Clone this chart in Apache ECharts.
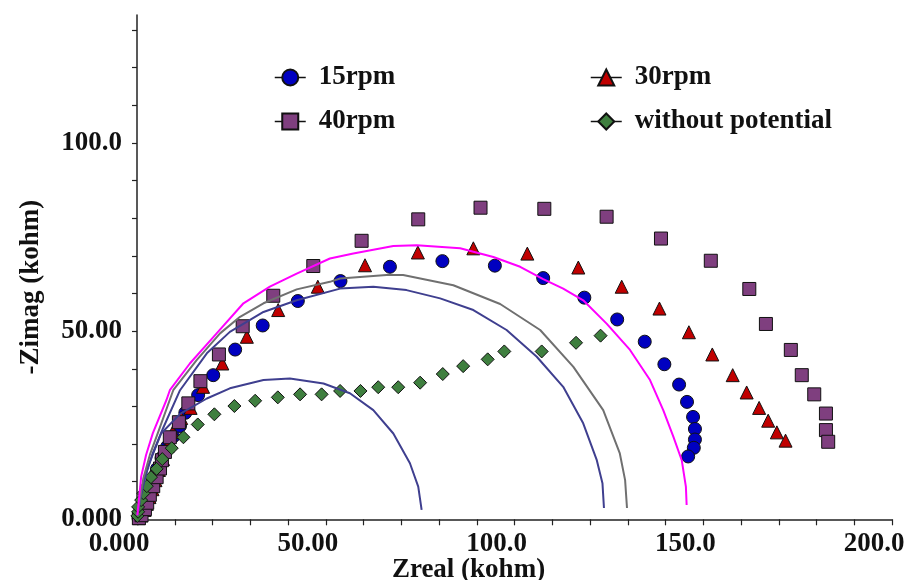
<!DOCTYPE html>
<html>
<head>
<meta charset="utf-8">
<script src="https://cdn.jsdelivr.net/npm/echarts@6/dist/echarts.min.js"></script>
<style>
html, body { margin: 0; padding: 0; background: #fff; }
#chart { width: 908px; height: 580px; }
</style>
</head>
<body>
<div id="chart"></div>
<script>
// Measured impedance spectra, [Zreal, -Zimag] in kohm
const rpm15 = [
  [0.4,0.3],[0.8,1.3],[1.3,2.6],[1.9,4.2],[2.5,6.1],[3.3,8.2],[4.2,10.7],[5.3,13.4],
  [6.5,16.3],[8.0,19.3],[9.6,22.0],[11.4,24.8],[12.8,28.3],[16.2,33.0],[20.2,38.3],
  [26.0,45.1],[33.3,51.5],[42.6,58.0],[53.9,63.3],[67.0,67.1],[80.9,68.6],[94.8,67.4],
  [107.6,64.1],[118.5,58.9],[127.2,53.1],[134.5,47.2],[139.7,41.2],[143.6,35.8],
  [145.7,31.2],[147.3,27.2],[147.8,24.0],[147.8,21.2],[147.5,19.0],[146.0,16.7]
];
const rpm30 = [
  [0.5,0.3],[1.2,1.0],[2.0,2.5],[2.6,4.1],[3.3,5.9],[4.1,8.0],[4.9,10.4],[5.8,13.1],
  [6.9,16.0],[8.1,19.5],[9.5,23.2],[11.7,26.9],[14.2,29.6],[17.5,35.2],[22.6,41.4],
  [29.1,48.5],[37.4,55.6],[47.9,61.8],[60.4,67.5],[74.4,70.9],[89.1,72.0],[103.4,70.6],
  [116.9,66.9],[128.4,61.8],[138.4,56.0],[146.2,49.7],[152.4,43.8],[157.8,38.3],
  [161.5,33.7],[164.8,29.6],[167.2,26.2],[169.5,23.1],[171.8,20.9]
];
const rpm40 = [
  [0.5,0.3],[1.2,1.1],[2.1,2.7],[2.7,4.4],[3.4,6.5],[4.3,8.8],[5.2,11.2],[6.1,13.5],
  [6.6,15.7],[7.4,17.9],[8.7,21.8],[11.1,25.8],[13.6,30.8],[16.8,36.7],[21.7,43.8],
  [28.0,51.3],[36.1,59.4],[46.7,67.3],[59.5,74.0],[74.5,79.7],[91.0,82.8],[107.9,82.5],
  [124.4,80.4],[138.8,74.6],[152.0,68.7],[162.2,61.2],[166.6,51.9],[173.2,45.0],
  [176.1,38.3],[179.4,33.2],[182.5,28.1],[182.5,23.7],[183.1,20.6]
];
const noPotential = [
  [0.1,0.9],[0.3,2.0],[0.3,3.3],[1.1,5.1],[1.7,6.9],[2.6,8.8],[3.7,11.2],[5.2,13.4],
  [6.7,16.0],[9.2,18.9],[12.3,21.8],[16.1,25.2],[20.5,27.9],[25.8,30.1],[31.3,31.5],
  [37.3,32.4],[43.2,33.2],[48.9,33.2],[53.8,34.1],[59.2,34.1],[63.9,35.1],[69.2,35.1],
  [75.0,36.3],[81.0,38.6],[86.4,40.7],[92.9,42.5],[97.3,44.6],[107.2,44.6],[116.3,46.9],
  [122.8,48.8]
];

// Equivalent-circuit fit curves
const fitA = [
  [0.1,0.9],[1.1,6.9],[2.9,14.0],[6.4,22.8],[11.4,28.0],[18.5,32.1],[24.6,34.8],
  [33.5,37.0],[40.5,37.4],[49.4,36.1],[56.4,33.5],[62.6,29.0],[67.9,22.8],[72.3,14.9],
  [74.5,8.7],[75.4,2.5]
];
const fitB = [
  [0.1,0.9],[0.8,5.1],[2.1,11.0],[4.2,17.6],[6.9,24.2],[11.4,34.3],[18.5,44.1],
  [24.6,49.8],[33.5,55.1],[42.3,58.2],[53.8,61.3],[62.6,61.8],[71.4,60.9],[80.3,58.7],
  [89.1,55.6],[97.9,50.3],[105.9,43.2],[112.9,35.2],[118.2,25.5],[121.8,15.7],
  [123.3,9.6],[123.7,3.0]
];
const fitC = [
  [0.1,0.9],[0.7,5.1],[1.7,11.0],[3.4,17.1],[5.8,23.7],[9.6,34.3],[15.8,42.3],
  [22.0,49.4],[27.3,53.8],[33.5,57.4],[42.3,61.1],[51.1,63.1],[53.8,64.0],[66.1,64.9],
  [70.5,64.9],[83.8,62.2],[96.2,57.2],[106.8,50.3],[115.6,40.5],[123.5,29.0],
  [127.9,17.5],[129.3,10.4],[129.8,3.0]
];
const fitD = [
  [0.1,1.1],[0.5,5.1],[1.1,11.3],[2.4,17.1],[4.2,22.9],[7.8,31.7],[8.7,34.3],
  [14.0,41.4],[21.1,49.4],[28.2,57.4],[35.2,61.8],[42.3,65.3],[51.1,69.3],[57.3,70.6],
  [67.9,72.6],[74.1,72.8],[85.6,72.0],[94.4,69.7],[101.5,67.1],[107.6,63.8],
  [112.9,61.3],[118.2,58.2],[124.4,52.0],[130.6,45.0],[135.9,37.0],[139.4,29.0],
  [142.1,21.9],[144.3,15.7],[145.4,8.7],[145.6,3.8]
];

// Axis ticks and their printed labels
const xMinorTicks = [0,10,20,30,40,50,60,70,80,90,100,110,120,130,140,150,160,170,180,190,200];
const xLabelValues = [0, 50, 100, 150, 200];
const xLabelTexts = ['0.000', '50.00', '100.0', '150.0', '200.0'];
const yMinorTicks = [0,10,20,30,40,50,60,70,80,90,100,110,120,130];
const yLabelValues = [0, 50, 100];
const yLabelTexts = ['0.000', '50.00', '100.0'];

const FONT = 'Liberation Serif';
const chart = echarts.init(document.getElementById('chart'), null, { renderer: 'canvas' });

// Marker-only series: the connecting line is hidden, but its style feeds the legend icon
function markerSeries(name, data, symbol, color, z) {
  return {
    name: name,
    type: 'line',
    data: data,
    symbol: symbol,
    symbolSize: 13,
    showAllSymbol: true,
    itemStyle: { color: color, borderColor: '#111', borderWidth: 1, opacity: 1 },
    lineStyle: { color: '#111', width: 0, opacity: 0 },
    emphasis: { disabled: true },
    animation: false,
    z: z
  };
}
function fitSeries(data, color) {
  return {
    type: 'line',
    data: data,
    showSymbol: false,
    symbol: 'none',
    lineStyle: { color: color, width: 2 },
    emphasis: { disabled: true },
    animation: false,
    z: 10
  };
}

const legendCommon = {
  orient: 'vertical',
  padding: 0,
  itemWidth: 31,
  itemHeight: 20,
  itemGap: 17,
  selectedMode: false,
  lineStyle: { color: '#111', width: 1.5, opacity: 1 },
  textStyle: { fontFamily: FONT, fontWeight: 'bold', fontSize: 27, color: '#111', padding: [0, 0, 0, 8] }
};

chart.setOption({
  backgroundColor: '#fff',
  animation: false,
  grid: { left: 137, right: 16, top: 15, bottom: 60.7, containLabel: false, outerBoundsMode: 'none' },
  legend: [
    Object.assign({ left: 274, top: 64, data: ['15rpm', '40rpm'] }, legendCommon),
    Object.assign({ left: 590, top: 64, data: ['30rpm', 'without potential'] }, legendCommon)
  ],
  xAxis: {
    type: 'value', min: 0, max: 200, interval: 10,
    name: 'Zreal (kohm)', nameLocation: 'middle', nameGap: 37, nameMoveOverlap: false,
    nameTextStyle: { fontFamily: FONT, fontWeight: 'bold', fontSize: 27, color: '#111', padding: [0, 92, 0, 0] },
    axisLine: { onZero: false, lineStyle: { color: '#222', width: 1.5 } },
    axisTick: { show: true, length: 6, customValues: xMinorTicks, lineStyle: { color: '#222', width: 1.2 } },
    axisLabel: {
      customValues: xLabelValues, margin: 11, padding: [0, 36, 0, 0],
      fontFamily: FONT, fontWeight: 'bold', fontSize: 27, color: '#111',
      formatter: v => xLabelTexts[xLabelValues.indexOf(v)]
    },
    splitLine: { show: false }
  },
  yAxis: {
    type: 'value', min: 0, max: 134, interval: 10,
    name: '-Zimag (kohm)', nameLocation: 'middle', nameGap: 92, nameRotate: 90, nameMoveOverlap: false,
    nameTextStyle: { fontFamily: FONT, fontWeight: 'bold', fontSize: 27, color: '#111', padding: [0, 40, 0, 0] },
    axisLine: { onZero: false, lineStyle: { color: '#222', width: 1.5 } },
    axisTick: { show: true, length: 5, customValues: yMinorTicks, lineStyle: { color: '#222', width: 1.2 } },
    axisLabel: {
      customValues: yLabelValues, margin: 15,
      fontFamily: FONT, fontWeight: 'bold', fontSize: 27, color: '#111',
      formatter: v => yLabelTexts[yLabelValues.indexOf(v)]
    },
    splitLine: { show: false }
  },
  series: [
    markerSeries('15rpm', rpm15, 'circle', '#0000c0', 2),
    markerSeries('30rpm', rpm30, 'triangle', '#c00000', 3),
    markerSeries('40rpm', rpm40, 'rect', '#7f3f7f', 4),
    markerSeries('without potential', noPotential, 'diamond', '#3f7f3f', 5),
    fitSeries(fitA, '#3f3f8f'),
    fitSeries(fitB, '#3f3f8f'),
    fitSeries(fitC, '#707070'),
    fitSeries(fitD, '#ff00ff')
  ]
});
</script>
</body>
</html>
